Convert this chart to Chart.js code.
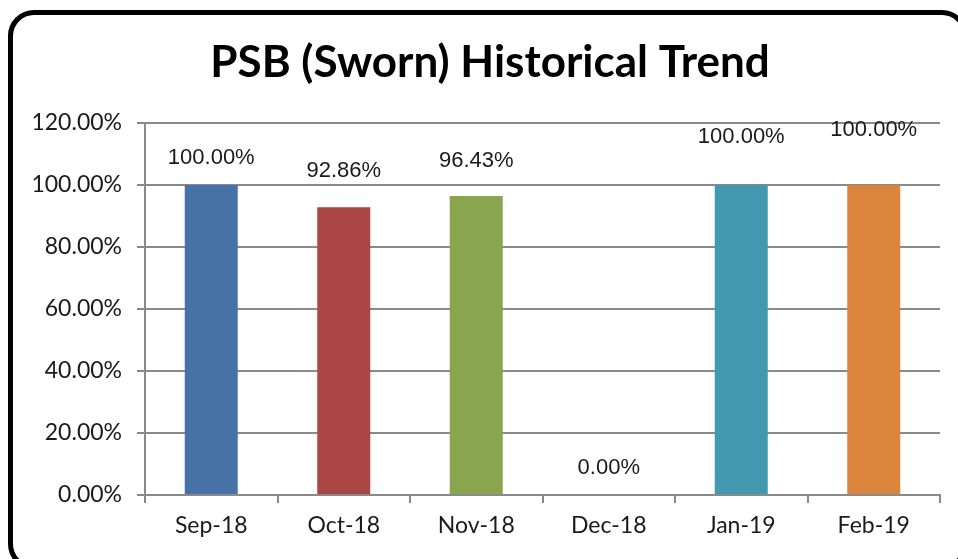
<!DOCTYPE html>
<html>
<head>
<meta charset="utf-8">
<script src="https://cdn.jsdelivr.net/npm/chart.js@4/dist/chart.umd.min.js"></script>
<style>
  html, body { margin: 0; padding: 0; background: #fff; overflow: hidden; }
  #wrap { position: relative; width: 958px; height: 559px; }
  #frame {
    position: absolute; left: 8px; top: 10px; width: 960px; height: 560px;
    border: 5px solid #000; border-radius: 26px; box-sizing: border-box;
    pointer-events: none;
  }
  canvas { position: absolute; left: 0; top: 0; }
</style>
</head>
<body>
<div id="wrap">
  <canvas id="chart" width="958" height="559"></canvas>
  <div id="frame"></div>
</div>
<script>
const chartTitle = 'PSB (Sworn) Historical Trend';
const months = ['Sep-18', 'Oct-18', 'Nov-18', 'Dec-18', 'Jan-19', 'Feb-19'];
const sworn = [100.00, 92.86, 96.43, 0.00, 100.00, 100.00];
const barColors = ['#4672A8', '#AA4643', '#89A54E', '#71588F', '#4198AF', '#DB843D'];
const labelRaise = [27, 36, 35, 27, 48, 55];

const grey = '#8a8a8a';

// title drawn by hand so it can sit slightly right of the canvas centre, like the original
const titlePlugin = {
  id: 'titlePlugin',
  afterDraw(chart) {
    const ctx = chart.ctx;
    ctx.save();
    ctx.font = 'bold 44px Lato, "Liberation Sans", sans-serif';
    ctx.fillStyle = '#000';
    ctx.textAlign = 'center';
    ctx.textBaseline = 'middle';
    ctx.fillText(chartTitle, 490, 63);
    ctx.restore();
  }
};

const barLabels = {
  id: 'barLabels',
  afterDatasetsDraw(chart) {
    const ctx = chart.ctx;
    const meta = chart.getDatasetMeta(0);
    ctx.save();
    ctx.font = '22px "Liberation Sans", Arial, sans-serif';
    ctx.fillStyle = '#1a1a1a';
    ctx.textAlign = 'center';
    ctx.textBaseline = 'middle';
    meta.data.forEach((bar, i) => {
      ctx.fillText(sworn[i].toFixed(2) + '%', bar.x, bar.y - labelRaise[i]);
    });
    ctx.restore();
  }
};

new Chart(document.getElementById('chart').getContext('2d'), {
  type: 'bar',
  data: {
    labels: months,
    datasets: [{
      data: sworn,
      backgroundColor: barColors,
      categoryPercentage: 1,
      barPercentage: 0.4
    }]
  },
  options: {
    responsive: false,
    animation: false,
    layout: { padding: { left: 0, right: 18, top: 123, bottom: 0 } },
    plugins: {
      legend: { display: false },
      tooltip: { enabled: false },
      title: { display: false }
    },
    scales: {
      x: {
        grid: { display: true, drawOnChartArea: false, color: grey, lineWidth: 2, tickLength: 8, offset: true },
        border: { color: grey, width: 2 },
        ticks: { color: '#1a1a1a', font: { family: 'Lato, sans-serif', size: 23 }, padding: 9, maxRotation: 0 },
        afterFit(scale) { scale.height = 64; }
      },
      y: {
        min: 0, max: 120,
        ticks: {
          stepSize: 20, color: '#1a1a1a', padding: 15,
          font: { family: 'Lato, sans-serif', size: 23 },
          callback: v => v.toFixed(2) + '%'
        },
        grid: { color: grey, lineWidth: 2, tickLength: 8 },
        border: { color: grey, width: 2 },
        afterFit(scale) { scale.width = 145; }
      }
    }
  },
  plugins: [barLabels, titlePlugin]
});
</script>
</body>
</html>
